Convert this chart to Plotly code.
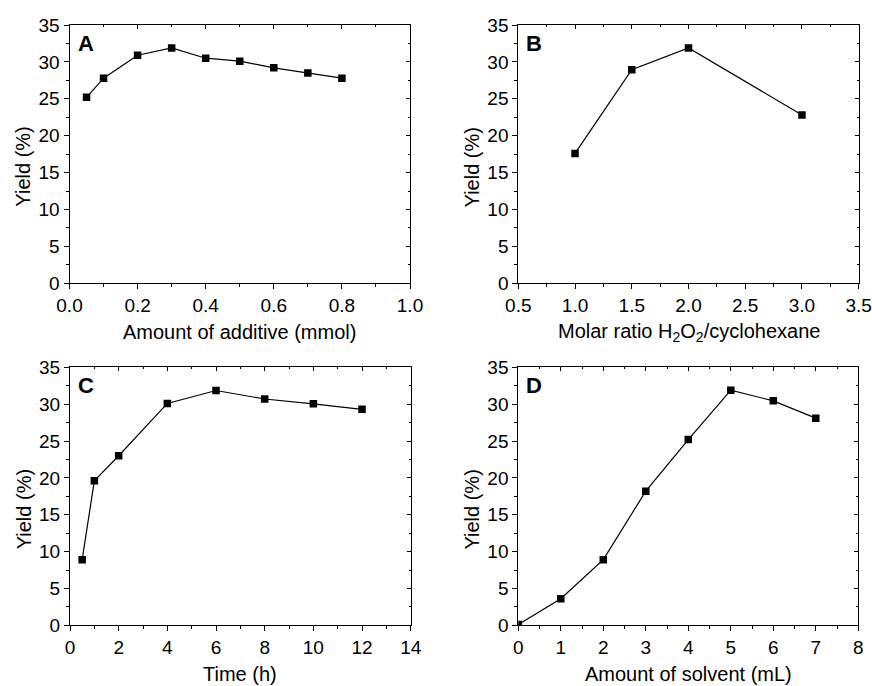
import plotly.graph_objects as go

W, H = 872, 686

# ---- data ----
a_x = [0.05, 0.1, 0.2, 0.3, 0.4, 0.5, 0.6, 0.7, 0.8]
a_y = [25.2, 27.8, 30.9, 31.9, 30.5, 30.1, 29.2, 28.5, 27.8]
b_x = [1.0, 1.5, 2.0, 3.0]
b_y = [17.6, 28.95, 31.9, 22.8]
c_x = [0.5, 1, 2, 4, 6, 8, 10, 12]
c_y = [8.9, 19.6, 23.0, 30.1, 31.85, 30.7, 30.05, 29.3]
d_x = [0, 1, 2, 3, 4, 5, 6, 7]
d_y = [0.1, 3.6, 8.9, 18.2, 25.2, 31.9, 30.45, 28.1]

x_titles = ["Amount of additive (mmol)",
            "Molar ratio H<sub>2</sub>O<sub>2</sub>/cyclohexane",
            "Time (h)",
            "Amount of solvent (mL)"]
y_title = "Yield (%)"
letters = ["A", "B", "C", "D"]

FONT = "Liberation Sans, Arial, sans-serif"

def px(x):
    return x / W

def py(y):
    return 1 - y / H

# plot-area pixel boxes (left, right, top, bottom)
boxes = [(69.5, 410, 25, 283.3),
         (518.3, 858.7, 25, 283.3),
         (70, 410.7, 367.3, 625.3),
         (518.3, 858.3, 367.3, 625.3)]
xranges = [[0, 1.0], [0.5, 3.5], [0, 14], [0, 8]]
xdticks = [0.2, 0.5, 2, 1]
xformats = [".1f", ".1f", "d", "d"]
series = [(a_x, a_y), (b_x, b_y), (c_x, c_y), (d_x, d_y)]

fig = go.Figure()
layout = dict(width=W, height=H, margin=dict(l=0, r=0, t=0, b=0, pad=0, autoexpand=False),
              paper_bgcolor="white", plot_bgcolor="white", showlegend=False,
              font=dict(family=FONT, size=19, color="black"))
annotations = []

for i in range(4):
    n = i + 1
    xs = "" if n == 1 else str(n)
    l, r, t, b = boxes[i]
    xd = [px(l), px(r)]
    yd = [py(b), py(t)]
    fig.add_trace(go.Scatter(x=series[i][0], y=series[i][1], mode="lines+markers",
                             line=dict(color="black", width=1.2),
                             marker=dict(symbol="square", size=7.5, color="black"),
                             xaxis="x" + xs, yaxis="y" + xs))
    layout["xaxis" + xs] = dict(domain=xd, anchor="y" + xs, range=xranges[i],
                                dtick=xdticks[i], tick0=0, tickformat=xformats[i],
                                ticks="outside", ticklen=5, tickwidth=1, tickcolor="black",
                                minor=dict(ticks="outside", ticklen=3, tickwidth=1,
                                           tickcolor="black", dtick=xdticks[i] / 2, showgrid=False),
                                showline=True, linecolor="black", linewidth=1, mirror=True,
                                showgrid=False, zeroline=False, automargin=False,
                                tickfont=dict(size=19, family=FONT, color="black"))
    layout["yaxis" + xs] = dict(domain=yd, anchor="x" + xs, range=[0, 35], dtick=5,
                                ticks="outside", ticklen=5, tickwidth=1, tickcolor="black",
                                minor=dict(ticks="outside", ticklen=3, tickwidth=1,
                                           tickcolor="black", dtick=2.5, showgrid=False),
                                showline=True, linecolor="black", linewidth=1, mirror=True,
                                showgrid=False, zeroline=False, automargin=False,
                                tickfont=dict(size=19, family=FONT, color="black"))
    # inner ticks on top and right
    tx = str(n + 4)
    layout["xaxis" + tx] = dict(overlaying="x" + xs, anchor="y" + xs, side="top",
                                range=xranges[i], dtick=xdticks[i], tick0=0,
                                ticks="inside", ticklen=4, tickwidth=1, tickcolor="black",
                                minor=dict(ticks="inside", ticklen=2, tickwidth=1,
                                           tickcolor="black", dtick=xdticks[i] / 2),
                                showticklabels=False, showgrid=False, zeroline=False,
                                showline=False, automargin=False)
    layout["yaxis" + tx] = dict(overlaying="y" + xs, anchor="x" + xs, side="right",
                                range=[0, 35], dtick=5,
                                ticks="inside", ticklen=4, tickwidth=1, tickcolor="black",
                                minor=dict(ticks="inside", ticklen=2, tickwidth=1,
                                           tickcolor="black", dtick=2.5),
                                showticklabels=False, showgrid=False, zeroline=False,
                                showline=False, automargin=False)
    fig.add_trace(go.Scatter(x=[None], y=[None], mode="markers", hoverinfo="skip",
                             xaxis="x" + tx, yaxis="y" + xs))
    fig.add_trace(go.Scatter(x=[None], y=[None], mode="markers", hoverinfo="skip",
                             xaxis="x" + xs, yaxis="y" + tx))

    # axis titles
    cx = (l + r) / 2
    annotations.append(dict(text=x_titles[i], xref="paper", yref="paper",
                            x=px(cx), y=py(b + 49), xanchor="center", yanchor="middle",
                            showarrow=False, font=dict(size=20, family=FONT, color="black")))
    annotations.append(dict(text=y_title, xref="paper", yref="paper",
                            x=px(l - 46), y=py((t + b) / 2 + 13), xanchor="center",
                            yanchor="middle", textangle=-90,
                            showarrow=False, font=dict(size=20, family=FONT, color="black")))
    annotations.append(dict(text="<b>" + letters[i] + "</b>", xref="paper", yref="paper",
                            x=px(l + 6), y=py(t + 18), xanchor="left", yanchor="middle",
                            showarrow=False, font=dict(size=22, family=FONT, color="black")))

layout["annotations"] = annotations
fig.update_layout(**layout)
fig.write_html("out.html", config={"displayModeBar": False},
               post_script="document.body.style.margin='0';document.body.style.overflow='hidden';")
